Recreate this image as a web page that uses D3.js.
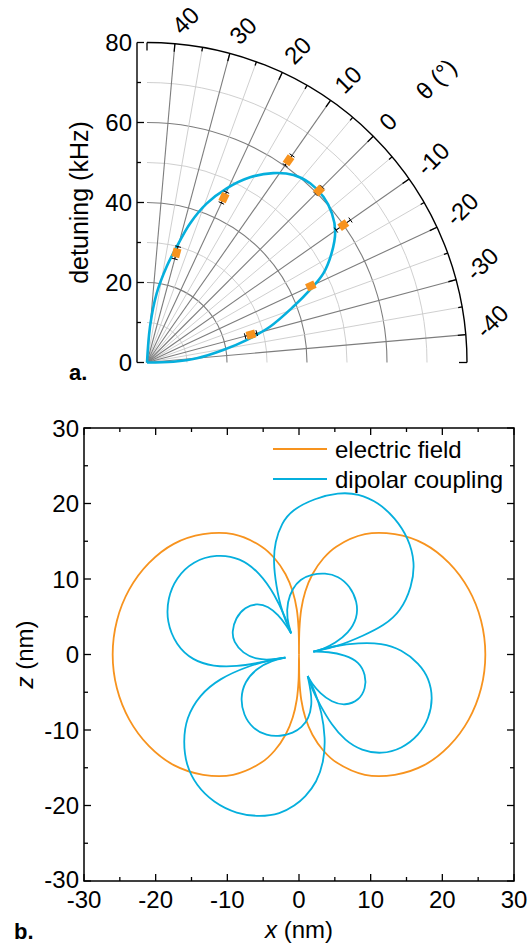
<!DOCTYPE html>
<html>
<head>
<meta charset="utf-8">
<script src="https://cdn.jsdelivr.net/npm/d3@7"></script>
<style>
  body { margin: 0; background: #fff; }
  svg text { font-family: "Liberation Sans", Arial, Helvetica, sans-serif; fill: #000; }
</style>
</head>
<body>
<svg id="fig" width="529" height="949"></svg>
<script>
// ---------- panel a: detuning vs. angle (polar quadrant) ----------
const thetaTicks = [-40, -30, -20, -10, 0, 10, 20, 30, 40];
const thetaMinor = [-35, -25, -15, -5, 5, 15, 25, 35];
const detuningTicks = [0, 20, 40, 60, 80];
const detuningMinor = [10, 30, 50, 70];

// measured detunings (kHz) with radial error bars
const measTheta    = [30, 20, 10, 0, -10, -20, -30];
const measDetuning = [28.4, 45.5, 61.7, 60.8, 59.9, 45.2, 26.9];
const measError    = [1.6, 1.5, 1.5, 1.2, 2.2, 0.8, 1.5];

// model curve (kHz) vs. angle (deg)
const fitTheta    = [45, 40.2, 37.0, 33.4, 30.6, 27.8, 24.4, 20.4, 15.9, 11.3, 7.0, 2.7,
                     -1.8, -6.1, -10.2, -14.4, -18.2, -21.0, -24.1, -28.8, -32.3, -35.7, -40.2, -43.3, -45];
const fitDetuning = [0, 9.0, 17.5, 24.5, 29.9, 36.4, 42.5, 47.9, 53.0, 56.9, 59.5, 60.6,
                     60.5, 59.4, 57.3, 53.6, 49.4, 44.6, 39.2, 32.0, 25.5, 19.3, 12.5, 6.6, 0];

// ---------- panel b: spatial patterns (nm) ----------
const axisTicks = [-30, -20, -10, 0, 10, 20, 30];
const axisMinor = [-25, -15, -5, 5, 15, 25];

// electric field pattern: radius (nm) vs. angle measured clockwise from +z (deg)
const fieldAngle  = [0, 1, 3, 6, 10, 15, 20, 30, 40, 50, 60, 70, 80, 90, 100, 110, 120, 130, 140, 150,
                     160, 165, 170, 174, 177, 179, 180, 181, 183, 186, 190, 195, 200, 210, 220, 230, 240,
                     250, 260, 270, 280, 290, 300, 310, 320, 330, 340, 345, 350, 354, 357, 359, 360];
const fieldRadius = [0, 3.4, 6.0, 8.4, 10.8, 13.2, 15.2, 18.4, 20.8, 22.8, 24.2, 25.2, 25.8, 26.0, 25.8, 25.2, 24.2, 22.8, 20.8, 18.4,
                     15.2, 13.2, 10.8, 8.4, 6.0, 3.4, 0, 3.4, 6.0, 8.4, 10.8, 13.2, 15.2, 18.4, 20.8, 22.8, 24.2,
                     25.2, 25.8, 26.0, 25.8, 25.2, 24.2, 22.8, 20.8, 18.4, 15.2, 13.2, 10.8, 8.4, 6.0, 3.4, 0];

// dipolar coupling pattern: eight lobes running between four cusp points, [x, z] in nm
const lobeTop = [[-1.1, 2.8], [-2.42, 5.67], [-3.21, 9.2], [-3.58, 12.29], [-3.35, 14.94], [-2.42, 17.38],
  [-1.02, 19.14], [2.23, 20.7], [5.49, 21.45], [8.28, 21.32], [11.07, 20.13], [13.4, 18.1], [15.26, 15.45],
  [16.2, 12.2], [15.75, 9.0], [14.2, 5.7], [11.8, 3.8], [9.0, 2.5], [5.5, 1.1], [2.0, 0.37]];
const lobeUpperSmall = [[-1.1, 2.8], [-1.72, 4.79], [-1.63, 6.99], [-0.88, 8.77], [0.14, 9.97], [1.77, 10.63],
  [3.63, 10.8], [5.49, 10.4], [7.11, 9.05], [8.15, 6.99], [8.15, 4.79], [6.88, 2.81], [5.02, 1.48], [3.39, 0.73], [2.0, 0.37]];
const lobeRight = [[2.0, 0.37], [5.02, 1.16], [8.28, 1.55], [11.53, 1.52], [14.32, 0.65], [16.75, -1.17],
  [18.14, -3.15], [18.7, -5.8], [18.14, -8.45], [16.75, -10.7], [14.32, -12.5], [11.53, -13.2], [8.74, -12.75],
  [6.42, -11.4], [4.56, -9.34], [2.93, -6.69], [1.77, -4.48], [1.21, -2.85]];
const lobeRightSmall = [[2.0, 0.37], [4.09, 0.37], [6.42, -0.07], [8.38, -0.95], [9.31, -2.72], [9.31, -4.48],
  [8.38, -6.08], [6.42, -6.79], [4.56, -6.3], [2.93, -5.14], [1.77, -3.81], [1.21, -2.85]];
const lobeBottom = [[1.21, -2.85], [2.23, -4.93], [3.17, -7.58], [3.7, -11.1], [3.45, -14.2], [2.5, -16.9],
  [0.84, -18.9], [-0.56, -20.0], [-2.65, -21.13], [-5.44, -21.49], [-8.69, -21.13], [-11.95, -19.6],
  [-14.35, -17.33], [-15.76, -14.64], [-16.14, -11.55], [-15.76, -8.45], [-13.9, -5.36], [-11.02, -3.15],
  [-7.3, -1.61], [-4.04, -0.73], [-1.9, -0.4]];
const lobeLowerSmall = [[1.21, -2.85], [1.67, -4.93], [1.8, -6.69], [1.35, -8.5], [0.37, -9.66], [-0.79, -10.4],
  [-2.65, -10.85], [-4.5, -10.76], [-6.45, -9.83], [-7.75, -8.01], [-8.17, -5.8], [-7.6, -3.6], [-5.9, -1.83],
  [-3.81, -0.82], [-1.9, -0.4]];
const lobeLeft = [[-1.9, -0.4], [-5.44, -1.08], [-8.69, -1.6], [-11.95, -1.6], [-14.84, -0.78], [-17.16, 1.26],
  [-18.47, 4.35], [-18.33, 7.44], [-17.16, 10.15], [-14.8, 12.37], [-11.48, 13.28], [-8.23, 12.82],
  [-5.44, 10.8], [-3.35, 7.88], [-1.95, 5.0], [-1.1, 2.8]];
const lobeLeftSmall = [[-1.9, -0.4], [-4.04, -0.73], [-5.9, -0.65], [-7.85, 0.16], [-9.15, 1.7], [-9.35, 3.02],
  [-8.87, 4.83], [-7.53, 6.28], [-5.9, 6.77], [-4.28, 6.4], [-2.89, 5.23], [-1.81, 3.91], [-1.1, 2.8]];

const legendLabels = ["electric field", "dipolar coupling"];

const ORANGE = "#f7931e";
const BLUE = "#05afdd";
const FONT = 24;

const svg = d3.select("#fig");

// ================= panel a =================
const O = { x: 147, y: 362.5 };
const rScale = d3.scaleLinear().domain([0, 80]).range([0, 320]);
// angle measured clockwise from screen-up, as d3's radial helpers use
const aScale = d3.scaleLinear().domain([45, -45]).range([0, Math.PI / 2]);
const polarXY = (theta, r) => {
  const a = aScale(theta), rr = rScale(r);
  return [O.x + rr * Math.sin(a), O.y - rr * Math.cos(a)];
};

const gA = svg.append("g");

// radial grid arcs
const arcPath = r => {
  const p = d3.path();
  p.arc(O.x, O.y, rScale(r), -Math.PI / 2, 0);
  return p.toString();
};
gA.selectAll(".arcMinor").data(detuningMinor).join("path")
  .attr("d", arcPath).attr("fill", "none").attr("stroke", "#c9c9c9").attr("stroke-width", 0.9);
gA.selectAll(".arcMajor").data(detuningTicks.filter(d => d > 0 && d < 80)).join("path")
  .attr("d", arcPath).attr("fill", "none").attr("stroke", "#7d7d7d").attr("stroke-width", 1.1);

// angular spokes
gA.selectAll(".spokeMinor").data(thetaMinor).join("line")
  .attr("x1", O.x).attr("y1", O.y)
  .attr("x2", d => polarXY(d, 80)[0]).attr("y2", d => polarXY(d, 80)[1])
  .attr("stroke", "#c9c9c9").attr("stroke-width", 0.9);
gA.selectAll(".spokeMajor").data(thetaTicks).join("line")
  .attr("x1", O.x).attr("y1", O.y)
  .attr("x2", d => polarXY(d, 80)[0]).attr("y2", d => polarXY(d, 80)[1])
  .attr("stroke", "#7d7d7d").attr("stroke-width", 1.1);

// outer arc with inward ticks
gA.append("path").attr("d", arcPath(80)).attr("fill", "none").attr("stroke", "#000").attr("stroke-width", 1.4);
const arcTicks = [-45].concat(thetaTicks, thetaMinor, [45]);
gA.selectAll(".arcTick").data(arcTicks).join("line")
  .each(function (d) {
    const major = (d % 10 === 0) || Math.abs(d) === 45;
    const len = major ? 8 : 4;
    const p0 = polarXY(d, 80), p1 = polarXY(d, rScale.invert(rScale(80) - len));
    d3.select(this).attr("x1", p0[0]).attr("y1", p0[1]).attr("x2", p1[0]).attr("y2", p1[1]);
  })
  .attr("stroke", "#000").attr("stroke-width", 1.3);

// angle labels
gA.selectAll(".thetaLabel").data(thetaTicks).join("text")
  .attr("transform", d => {
    const a = aScale(d);
    const x = O.x + 334 * Math.sin(a), y = O.y - 334 * Math.cos(a);
    return `translate(${x},${y}) rotate(-45)`;
  })
  .attr("text-anchor", "start").attr("dominant-baseline", "central")
  .attr("font-size", FONT).text(d => d);
gA.append("text").attr("transform", "translate(436,79) rotate(-45)")
  .attr("text-anchor", "middle").attr("dominant-baseline", "central")
  .attr("font-size", FONT).text("θ (°)");

// detuning axis (offset left of the pole)
const axX = 137;
const yA = d3.scaleLinear().domain([0, 80]).range([O.y, O.y - 320]);
gA.append("line").attr("x1", axX).attr("x2", axX).attr("y1", yA(0)).attr("y2", yA(80))
  .attr("stroke", "#000").attr("stroke-width", 1.4);
gA.selectAll(".yaTick").data(detuningTicks).join("line")
  .attr("x1", axX).attr("x2", axX + 7).attr("y1", yA).attr("y2", yA)
  .attr("stroke", "#000").attr("stroke-width", 1.3);
gA.selectAll(".yaMinor").data(detuningMinor).join("line")
  .attr("x1", axX).attr("x2", axX + 4).attr("y1", yA).attr("y2", yA)
  .attr("stroke", "#000").attr("stroke-width", 1.3);
gA.selectAll(".yaLabel").data(detuningTicks).join("text")
  .attr("x", axX - 5).attr("y", yA).attr("text-anchor", "end").attr("dominant-baseline", "central")
  .attr("font-size", FONT).text(d => d);
gA.append("text").attr("transform", `translate(88,${yA(40)}) rotate(-90)`)
  .attr("text-anchor", "middle").attr("font-size", 25).text("detuning (kHz)");
gA.append("text").attr("x", 69).attr("y", 380).attr("font-size", 22).attr("font-weight", "bold").text("a.");

// model curve
const fitLine = d3.line()
  .x(i => polarXY(fitTheta[i], fitDetuning[i])[0])
  .y(i => polarXY(fitTheta[i], fitDetuning[i])[1])
  .curve(d3.curveCatmullRom.alpha(0.5));
gA.append("path").attr("d", fitLine(d3.range(fitTheta.length)))
  .attr("fill", "none").attr("stroke", BLUE).attr("stroke-width", 2.6);

// measurements: radial error bars and squares
const meas = measTheta.map((t, i) => ({ t, r: measDetuning[i], e: measError[i] }));
const gm = gA.selectAll(".meas").data(meas).join("g");
gm.each(function (d) {
  const g = d3.select(this);
  const a = aScale(d.t);
  const px = Math.cos(a), py = Math.sin(a); // perpendicular to the radius
  const lo = polarXY(d.t, d.r - d.e), hi = polarXY(d.t, d.r + d.e);
  g.append("line").attr("x1", lo[0]).attr("y1", lo[1]).attr("x2", hi[0]).attr("y2", hi[1])
    .attr("stroke", "#000").attr("stroke-width", 1);
  [lo, hi].forEach(p => g.append("line")
    .attr("x1", p[0] - 3 * px).attr("y1", p[1] - 3 * py)
    .attr("x2", p[0] + 3 * px).attr("y2", p[1] + 3 * py)
    .attr("stroke", "#000").attr("stroke-width", 1));
  const c = polarXY(d.t, d.r);
  g.append("rect").attr("x", -4.5).attr("y", -4).attr("width", 9).attr("height", 8)
    .attr("transform", `translate(${c[0]},${c[1]}) rotate(${-(d.t + 45)})`)
    .attr("fill", ORANGE);
});

// ================= panel b =================
const xB = d3.scaleLinear().domain([-30, 30]).range([84, 514]);
const zB = d3.scaleLinear().domain([-30, 30]).range([881, 428]);
const gB = svg.append("g");

// curves
const fieldPts = fieldAngle.map((a, i) => {
  const rad = a * Math.PI / 180;
  return [fieldRadius[i] * Math.sin(rad), fieldRadius[i] * Math.cos(rad)];
});
const fieldLine = d3.line().x(d => xB(d[0])).y(d => zB(d[1])).curve(d3.curveCatmullRom.alpha(0.5));
gB.append("path").attr("d", fieldLine(fieldPts)).attr("fill", "none")
  .attr("stroke", ORANGE).attr("stroke-width", 1.8);
const lobeLine = d3.line().x(d => xB(d[0])).y(d => zB(d[1])).curve(d3.curveBasis);
const lobes = [lobeTop, lobeUpperSmall, lobeRight, lobeRightSmall, lobeBottom, lobeLowerSmall, lobeLeft, lobeLeftSmall];
gB.selectAll(".lobe").data(lobes).join("path").attr("d", lobeLine)
  .attr("fill", "none").attr("stroke", BLUE).attr("stroke-width", 1.8);

// frame and inward ticks
gB.append("rect").attr("x", xB(-30)).attr("y", zB(30)).attr("width", xB(30) - xB(-30)).attr("height", zB(-30) - zB(30))
  .attr("fill", "none").attr("stroke", "#000").attr("stroke-width", 1.5);
const tickSets = [[axisTicks, 7], [axisMinor, 4]];
tickSets.forEach(([vals, len]) => {
  gB.selectAll(null).data(vals).join("line")
    .attr("x1", xB).attr("x2", xB).attr("y1", zB(-30)).attr("y2", zB(-30) - len)
    .attr("stroke", "#000").attr("stroke-width", 1.3);
  gB.selectAll(null).data(vals).join("line")
    .attr("x1", xB).attr("x2", xB).attr("y1", zB(30)).attr("y2", zB(30) + len)
    .attr("stroke", "#000").attr("stroke-width", 1.3);
  gB.selectAll(null).data(vals).join("line")
    .attr("y1", zB).attr("y2", zB).attr("x1", xB(-30)).attr("x2", xB(-30) + len)
    .attr("stroke", "#000").attr("stroke-width", 1.3);
  gB.selectAll(null).data(vals).join("line")
    .attr("y1", zB).attr("y2", zB).attr("x1", xB(30)).attr("x2", xB(30) - len)
    .attr("stroke", "#000").attr("stroke-width", 1.3);
});
gB.selectAll(".xLabel").data(axisTicks).join("text")
  .attr("x", xB).attr("y", 908).attr("text-anchor", "middle").attr("font-size", FONT).text(d => d);
gB.selectAll(".zLabel").data(axisTicks).join("text")
  .attr("x", xB(-30) - 5).attr("y", d => zB(d) - (d === -30 ? 2 : 0))
  .attr("text-anchor", "end").attr("dominant-baseline", "central")
  .attr("font-size", FONT).text(d => d);

const xt = gB.append("text").attr("x", xB(0)).attr("y", 938).attr("text-anchor", "middle").attr("font-size", FONT);
xt.append("tspan").attr("font-style", "italic").text("x");
xt.append("tspan").text(" (nm)");
const zt = gB.append("text").attr("transform", `translate(33,${zB(0)}) rotate(-90)`)
  .attr("text-anchor", "middle").attr("font-size", FONT);
zt.append("tspan").attr("font-style", "italic").text("z");
zt.append("tspan").text(" (nm)");
gB.append("text").attr("x", 14).attr("y", 939).attr("font-size", 22).attr("font-weight", "bold").text("b.");

// legend
const legColors = [ORANGE, BLUE];
const leg = gB.selectAll(".leg").data(legendLabels).join("g")
  .attr("transform", (d, i) => `translate(0,${449 + i * 30})`);
leg.append("line").attr("x1", 273).attr("x2", 327).attr("y1", 0).attr("y2", 0)
  .attr("stroke", (d, i) => legColors[i]).attr("stroke-width", 1.8);
leg.append("text").attr("x", 335).attr("y", 0).attr("dominant-baseline", "central")
  .attr("font-size", FONT).text(d => d);
</script>
</body>
</html>
